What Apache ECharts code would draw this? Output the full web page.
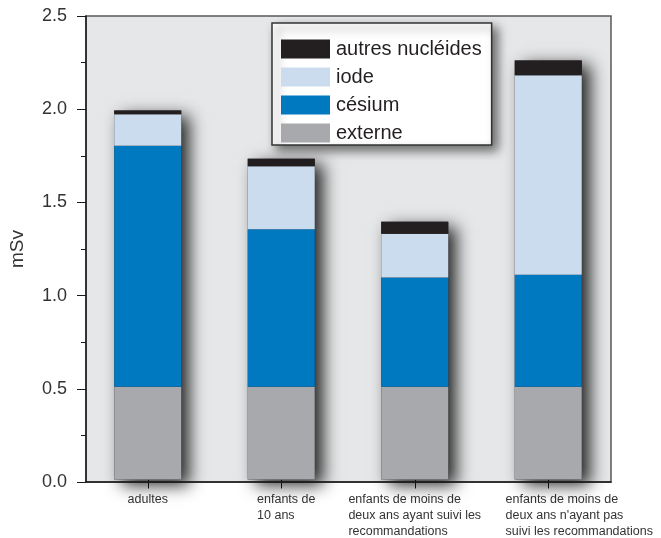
<!DOCTYPE html>
<html>
<head>
<meta charset="utf-8">
<script src="https://cdn.jsdelivr.net/npm/echarts@6/dist/echarts.min.js"></script>
<style>
  html, body { margin: 0; padding: 0; background: #ffffff; }
  #chart { width: 661px; height: 538px; }
</style>
</head>
<body>
<div id="chart"></div>
<script>
// Dose par groupe de population (mSv), composantes empilées
const categories = [
  'adultes',
  'enfants de\n10 ans',
  'enfants de moins de\ndeux ans ayant suivi les\nrecommandations',
  'enfants de moins de\ndeux ans n\'ayant pas\nsuivi les recommandations'
];
const externe = [0.50, 0.50, 0.50, 0.50];
const cesium  = [1.30, 0.85, 0.59, 0.605];
const iode    = [0.17, 0.34, 0.235, 1.075];
const autres  = [0.02, 0.04, 0.065, 0.08];
const yTicks  = [0, 0.5, 1.0, 1.5, 2.0, 2.5];

const seriesNames = ['externe', 'césium', 'iode', 'autres nucléides'];
const seriesColors = ['#a7a9ac', '#0079c1', '#cbdcee', '#231f20'];
const seriesData = [externe, cesium, iode, autres];

// total height of each column, used for the drop shadow behind the stack
const totals = categories.map((_, i) => seriesData.reduce((s, arr) => s + arr[i], 0));

const FONT = '"Liberation Sans", Arial, sans-serif';
const BAR_W = 67;

// per-label left padding; lines inside a label stay left-aligned
const labelPad = [0, 10, 0, 62];
const rich = {};
labelPad.forEach((p, i) => {
  rich['l' + i] = { fontSize: 12.5, lineHeight: 16, color: '#333', fontFamily: FONT,
    align: 'left', padding: [0, 0, 0, p] };
});

const chart = echarts.init(document.getElementById('chart'), null, { renderer: 'canvas' });

const option = {
  animation: false,
  grid: [
    { left: 85, right: 50, top: 16, bottom: 56, show: true, backgroundColor: '#e6e7e8',
      borderColor: '#5a5a5a', borderWidth: 1.5, z: 0 },
    { left: 81, right: 46, top: 16, bottom: 56 }
  ],
  xAxis: [
    { type: 'category', gridIndex: 0, data: categories,
      axisLine: { show: true, lineStyle: { color: '#1a1a1a', width: 1.5 } },
      axisTick: { show: false }, axisLabel: { show: false }, splitLine: { show: false }, z: 5 },
    { type: 'category', gridIndex: 1, data: categories,
      axisLine: { show: false },
      axisTick: { show: true, alignWithLabel: true, length: 9, lineStyle: { color: '#1a1a1a', width: 1 } },
      axisLabel: {
        margin: 12, align: 'center', verticalAlign: 'top', interval: 0,
        formatter: (v, idx) => v.split('\n').map(line => '{l' + idx + '|' + line + '}').join('\n'),
        rich: rich
      },
      splitLine: { show: false } }
  ],
  yAxis: [
    { type: 'value', gridIndex: 0, min: 0, max: 2.5, interval: 0.5,
      name: 'mSv', nameLocation: 'middle', nameGap: 59,
      nameTextStyle: { fontSize: 19, color: '#333', fontFamily: FONT },
      axisLine: { show: true, lineStyle: { color: '#1a1a1a', width: 1.5 } },
      axisTick: { show: true, length: 9, lineStyle: { color: '#1a1a1a', width: 1 } },
      minorTick: { show: true, splitNumber: 2, length: 5, lineStyle: { color: '#1a1a1a', width: 1 } },
      axisLabel: { margin: 19, fontSize: 18, color: '#333', fontFamily: FONT,
        formatter: v => yTicks.indexOf(v) >= 0 ? v.toFixed(1) : '' },
      splitLine: { show: false }, z: 5 },
    { type: 'value', gridIndex: 1, min: 0, max: 2.5, interval: 0.5, show: false }
  ],
  legend: {
    orient: 'vertical', left: 272, top: 23,
    data: ['autres nucléides', 'iode', 'césium', 'externe'],
    icon: 'rect', itemWidth: 49, itemHeight: 19, itemGap: 8,
    padding: [16, 10, 2, 9],
    backgroundColor: '#ffffff', borderColor: '#333333', borderWidth: 1.5,
    shadowBlur: 10, shadowColor: 'rgba(0,0,0,0.55)', shadowOffsetX: 5, shadowOffsetY: 5,
    textStyle: { fontSize: 20, color: '#231f20', fontFamily: FONT, padding: [0, 0, 0, 1] },
    itemStyle: { borderWidth: 0 },
    selectedMode: false
  },
  series: [
    {
      name: 'ombre', type: 'bar', xAxisIndex: 1, yAxisIndex: 1,
      data: totals, barWidth: BAR_W, barGap: '-100%', z: 1, silent: true,
      itemStyle: { color: '#231f20', shadowBlur: 16, shadowColor: 'rgba(0,0,0,0.85)',
        shadowOffsetX: 8, shadowOffsetY: 5 }
    }
  ].concat(seriesNames.map((name, k) => ({
    name: name, type: 'bar', stack: 'dose', xAxisIndex: 1, yAxisIndex: 1,
    data: seriesData[k], barWidth: BAR_W, barGap: '-100%', z: 2,
    itemStyle: { color: seriesColors[k] }
  })))
};

chart.setOption(option);
</script>
</body>
</html>
